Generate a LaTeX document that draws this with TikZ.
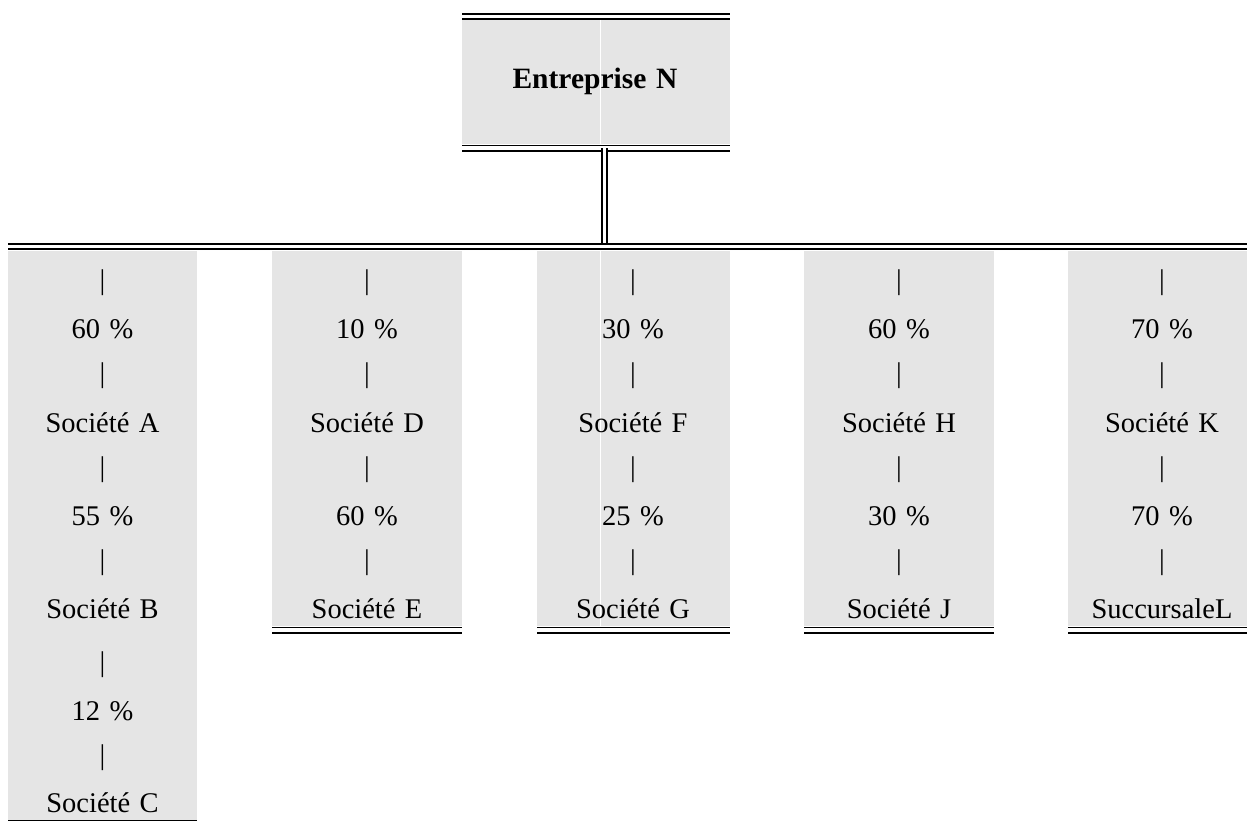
\documentclass[tikz,border=0pt]{standalone}
\usepackage{fontspec}
\setmainfont{Liberation Serif}
\definecolor{cellgrey}{HTML}{E5E5E5}
\newcommand\lblfont{\fontsize{28.5}{34}\selectfont\spaceskip=0.33em\relax}
\newcommand\ttlfont{\fontsize{29.5}{35}\selectfont\bfseries\spaceskip=0.33em\relax}
\begin{document}
\begin{tikzpicture}[x=1pt,y=-1pt,
  cell/.style={fill=cellgrey, draw=none, inner sep=0, outer sep=0, anchor=north west},
  dline/.style={draw=black, double=white, double distance=3.2pt, line width=1.9pt},
  vline/.style={draw=black, double=white, double distance=2.5pt, line width=1.9pt},
  sline/.style={draw=black, line width=1.2pt},
  seam/.style={draw=white, line width=1pt},
  lbl/.style={anchor=base, inner sep=0, outer sep=0, font=\lblfont},
  titlelbl/.style={anchor=base, inner sep=0, outer sep=0, font=\ttlfont}]
\useasboundingbox (0,0) rectangle (1247,823);
\fill[white] (0,0) rectangle (1247,823);

% top box
\node[cell, minimum width=268pt, minimum height=124pt] (N) at (462,20) {};
\draw[seam] (600.5,20) -- (600.5,144);
\node[titlelbl] (Nt) at (595,88) {Entreprise N};
\draw[dline] ([yshift=3.5pt]N.north west) -- ([yshift=3.5pt]N.north east);
\draw[dline] ([yshift=-4pt]N.south west) -- ([yshift=-4pt]N.south east);

% columns
\node[cell, minimum width=189pt, minimum height=569pt] (colA) at (8,251) {};
\node[cell, minimum width=190pt, minimum height=375pt] (colD) at (272,251) {};
\node[cell, minimum width=193pt, minimum height=375pt] (colF) at (537,251) {};
\node[cell, minimum width=190pt, minimum height=375pt] (colH) at (804,251) {};
\node[cell, minimum width=179pt, minimum height=375pt] (colK) at (1068,251) {};
\draw[seam] (600.5,251) -- (600.5,626);

% connector and bar
\coordinate (ctop) at (604.5,148);
\coordinate (cbot) at (604.5,246.5);
\coordinate (barL) at (8,246.5);
\coordinate (barR) at (1247,246.5);
\draw[vline] (ctop) -- (cbot);
\draw[dline] (barL) -- (barR);

% column bottoms
\draw[sline] ([yshift=-0.8pt]colA.south west) -- ([yshift=-0.8pt]colA.south east);
\foreach \c in {colD,colF,colH,colK}
  \draw[dline] ([yshift=-4pt]\c.south west) -- ([yshift=-4pt]\c.south east);

% texts
\foreach \t/\yy [count=\i] in {{|}/289, {60 \%}/338, {|}/382, {Société A}/432, {|}/476, {55 \%}/525, {|}/569, {Société B}/618, {|}/671, {12 \%}/720, {|}/764, {Société C}/812}
  \node[lbl] (A\i) at (102.5,\yy) {\t};
\foreach \t/\yy [count=\i] in {{|}/289, {10 \%}/338, {|}/382, {Société D}/432, {|}/476, {60 \%}/525, {|}/569, {Société E}/618}
  \node[lbl] (D\i) at (367,\yy) {\t};
\foreach \t/\yy [count=\i] in {{|}/289, {30 \%}/338, {|}/382, {Société F}/432, {|}/476, {25 \%}/525, {|}/569, {Société G}/618}
  \node[lbl] (F\i) at (633,\yy) {\t};
\foreach \t/\yy [count=\i] in {{|}/289, {60 \%}/338, {|}/382, {Société H}/432, {|}/476, {30 \%}/525, {|}/569, {Société J}/618}
  \node[lbl] (H\i) at (899,\yy) {\t};
\foreach \t/\yy [count=\i] in {{|}/289, {70 \%}/338, {|}/382, {Société K}/432, {|}/476, {70 \%}/525, {|}/569, {SuccursaleL}/618}
  \node[lbl] (K\i) at (1162,\yy) {\t};
\end{tikzpicture}
\end{document}
